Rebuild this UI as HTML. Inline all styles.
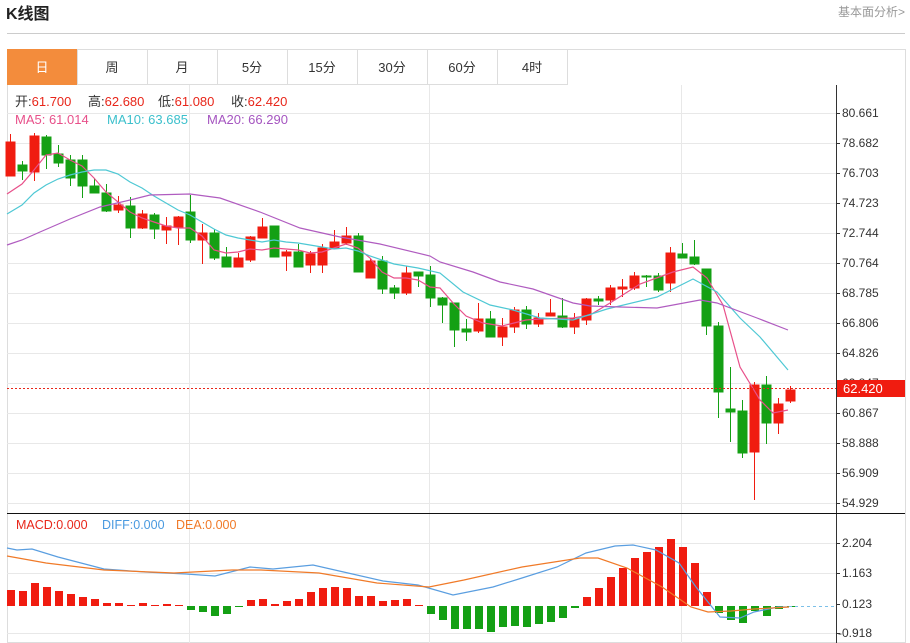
<!DOCTYPE html>
<html><head><meta charset="utf-8"><style>
body{margin:0;background:#fff;width:910px;height:643px;overflow:hidden;font-family:"Liberation Sans","Noto Sans CJK SC",sans-serif;}
svg{position:absolute;left:0;top:0}
</style></head><body>
<svg width="910" height="643" xmlns="http://www.w3.org/2000/svg" font-family="Liberation Sans, Noto Sans CJK SC, sans-serif">
<text x="6" y="19" font-size="16" font-weight="bold" fill="#222">K线图</text>
<text x="838" y="16" font-size="12" fill="#999">基本面分析&gt;</text>
<line x1="7" y1="33.5" x2="905" y2="33.5" stroke="#ccc"/>
<rect x="7.5" y="49.5" width="898" height="593" fill="none" stroke="#ddd"/>
<line x1="7" y1="84.5" x2="567" y2="84.5" stroke="#ddd"/>
<rect x="7" y="49" width="70" height="36" fill="#f38c3c"/>
<g stroke="#ddd"><line x1="77.5" y1="49" x2="77.5" y2="85"/><line x1="147.5" y1="49" x2="147.5" y2="85"/><line x1="217.5" y1="49" x2="217.5" y2="85"/><line x1="287.5" y1="49" x2="287.5" y2="85"/><line x1="357.5" y1="49" x2="357.5" y2="85"/><line x1="427.5" y1="49" x2="427.5" y2="85"/><line x1="497.5" y1="49" x2="497.5" y2="85"/><line x1="567.5" y1="49" x2="567.5" y2="85"/></g>
<g font-size="13" text-anchor="middle" fill="#333"><text x="42" y="72" fill="#fff">日</text><text x="112" y="72">周</text><text x="182" y="72">月</text><text x="252" y="72">5分</text><text x="322" y="72">15分</text><text x="392" y="72">30分</text><text x="462" y="72">60分</text><text x="532" y="72">4时</text></g>
<g stroke="#e8e8e8">
<line x1="7" y1="113.5" x2="836" y2="113.5"/><line x1="7" y1="143.5" x2="836" y2="143.5"/><line x1="7" y1="173.5" x2="836" y2="173.5"/><line x1="7" y1="203.5" x2="836" y2="203.5"/><line x1="7" y1="233.5" x2="836" y2="233.5"/><line x1="7" y1="263.5" x2="836" y2="263.5"/><line x1="7" y1="293.5" x2="836" y2="293.5"/><line x1="7" y1="323.5" x2="836" y2="323.5"/><line x1="7" y1="353.5" x2="836" y2="353.5"/><line x1="7" y1="383.5" x2="836" y2="383.5"/><line x1="7" y1="413.5" x2="836" y2="413.5"/><line x1="7" y1="443.5" x2="836" y2="443.5"/><line x1="7" y1="473.5" x2="836" y2="473.5"/><line x1="7" y1="503.5" x2="836" y2="503.5"/>
<line x1="7" y1="543.5" x2="836" y2="543.5"/><line x1="7" y1="573.5" x2="836" y2="573.5"/><line x1="7" y1="633.5" x2="836" y2="633.5"/>
<line x1="189.5" y1="85" x2="189.5" y2="643"/><line x1="429.5" y1="85" x2="429.5" y2="643"/><line x1="681.5" y1="85" x2="681.5" y2="643"/>
</g>
<line x1="836.5" y1="85" x2="836.5" y2="643" stroke="#333"/>
<line x1="7" y1="513.5" x2="905" y2="513.5" stroke="#111"/>
<g font-size="12" fill="#333">
<text x="842" y="117">80.661</text><text x="842" y="147">78.682</text><text x="842" y="177">76.703</text><text x="842" y="207">74.723</text><text x="842" y="237">72.744</text><text x="842" y="267">70.764</text><text x="842" y="297">68.785</text><text x="842" y="327">66.806</text><text x="842" y="357">64.826</text><text x="842" y="387">62.847</text><text x="842" y="417">60.867</text><text x="842" y="447">58.888</text><text x="842" y="477">56.909</text><text x="842" y="507">54.929</text>
<text x="842" y="547">2.204</text><text x="842" y="577">1.163</text><text x="842" y="608">0.123</text><text x="838" y="637">-0.918</text>
</g>
<g stroke="#333"><line x1="836" y1="113.5" x2="840" y2="113.5"/><line x1="836" y1="143.5" x2="840" y2="143.5"/><line x1="836" y1="173.5" x2="840" y2="173.5"/><line x1="836" y1="203.5" x2="840" y2="203.5"/><line x1="836" y1="233.5" x2="840" y2="233.5"/><line x1="836" y1="263.5" x2="840" y2="263.5"/><line x1="836" y1="293.5" x2="840" y2="293.5"/><line x1="836" y1="323.5" x2="840" y2="323.5"/><line x1="836" y1="353.5" x2="840" y2="353.5"/><line x1="836" y1="413.5" x2="840" y2="413.5"/><line x1="836" y1="443.5" x2="840" y2="443.5"/><line x1="836" y1="473.5" x2="840" y2="473.5"/><line x1="836" y1="503.5" x2="840" y2="503.5"/><line x1="836" y1="543.5" x2="840" y2="543.5"/><line x1="836" y1="573.5" x2="840" y2="573.5"/><line x1="836" y1="604.5" x2="840" y2="604.5"/><line x1="836" y1="633.5" x2="840" y2="633.5"/></g>
<g font-size="13">
<text x="15" y="106" fill="#333">开:<tspan fill="#e8261a">61.700</tspan></text>
<text x="88" y="106" fill="#333">高:<tspan fill="#e8261a">62.680</tspan></text>
<text x="158" y="106" fill="#333">低:<tspan fill="#e8261a">61.080</tspan></text>
<text x="231" y="106" fill="#333">收:<tspan fill="#e8261a">62.420</tspan></text>
<text x="15" y="124" fill="#e8508a">MA5: 61.014</text>
<text x="107" y="124" fill="#3cc0cc">MA10: 63.685</text>
<text x="207" y="124" fill="#a555c0">MA20: 66.290</text>
</g>
<g font-size="12.5">
<text x="16" y="529" fill="#e8261a">MACD:0.000</text>
<text x="102" y="529" fill="#4a9ae0">DIFF:0.000</text>
<text x="176" y="529" fill="#f07a28">DEA:0.000</text>
</g>
<g stroke-width="1">
<g fill="#f01c10" stroke="#f01c10">
<line x1="10.5" y1="134" x2="10.5" y2="176"/><rect x="6" y="142" width="9" height="34"/>
<line x1="34.5" y1="133" x2="34.5" y2="181"/><rect x="30" y="136" width="9" height="36"/>
<line x1="118.5" y1="196" x2="118.5" y2="213"/><rect x="114" y="205" width="9" height="5"/>
<line x1="142.5" y1="210" x2="142.5" y2="229"/><rect x="138" y="214" width="9" height="14"/>
<line x1="166.5" y1="217" x2="166.5" y2="244"/><rect x="162" y="226" width="9" height="4"/>
<line x1="178.5" y1="216" x2="178.5" y2="245"/><rect x="174" y="217" width="9" height="10"/>
<line x1="202.5" y1="224" x2="202.5" y2="264"/><rect x="198" y="233" width="9" height="7"/>
<line x1="238.5" y1="253" x2="238.5" y2="267"/><rect x="234" y="258" width="9" height="9"/>
<line x1="250.5" y1="236" x2="250.5" y2="262"/><rect x="246" y="237" width="9" height="23"/>
<line x1="262.5" y1="218" x2="262.5" y2="238"/><rect x="258" y="227" width="9" height="11"/>
<line x1="286.5" y1="250" x2="286.5" y2="271"/><rect x="282" y="252" width="9" height="4"/>
<line x1="310.5" y1="251" x2="310.5" y2="273"/><rect x="306" y="254" width="9" height="11"/>
<line x1="322.5" y1="244" x2="322.5" y2="273"/><rect x="318" y="248" width="9" height="17"/>
<line x1="334.5" y1="230" x2="334.5" y2="249"/><rect x="330" y="242" width="9" height="6"/>
<line x1="346.5" y1="227" x2="346.5" y2="245"/><rect x="342" y="236" width="9" height="7"/>
<line x1="370.5" y1="258" x2="370.5" y2="278"/><rect x="366" y="261" width="9" height="17"/>
<line x1="406.5" y1="266" x2="406.5" y2="295"/><rect x="402" y="273" width="9" height="20"/>
<line x1="478.5" y1="303" x2="478.5" y2="333"/><rect x="474" y="319" width="9" height="12"/>
<line x1="502.5" y1="318" x2="502.5" y2="346"/><rect x="498" y="327" width="9" height="10"/>
<line x1="514.5" y1="307" x2="514.5" y2="333"/><rect x="510" y="310" width="9" height="17"/>
<line x1="538.5" y1="313" x2="538.5" y2="327"/><rect x="534" y="318" width="9" height="6"/>
<line x1="550.5" y1="299" x2="550.5" y2="316"/><rect x="546" y="313" width="9" height="3"/>
<line x1="574.5" y1="313" x2="574.5" y2="334"/><rect x="570" y="319" width="9" height="8"/>
<line x1="586.5" y1="298" x2="586.5" y2="325"/><rect x="582" y="299" width="9" height="21"/>
<line x1="610.5" y1="285" x2="610.5" y2="305"/><rect x="606" y="288" width="9" height="12"/>
<line x1="622.5" y1="279" x2="622.5" y2="297"/><rect x="618" y="287" width="9" height="2"/>
<line x1="634.5" y1="272" x2="634.5" y2="290"/><rect x="630" y="276" width="9" height="12"/>
<line x1="670.5" y1="247" x2="670.5" y2="292"/><rect x="666" y="253" width="9" height="30"/>
<line x1="754.5" y1="382" x2="754.5" y2="500"/><rect x="750" y="385" width="9" height="67"/>
<line x1="778.5" y1="398" x2="778.5" y2="434"/><rect x="774" y="404" width="9" height="19"/>
<line x1="790.5" y1="386" x2="790.5" y2="403"/><rect x="786" y="390" width="9" height="11"/>
</g>
<g fill="#14a014" stroke="#14a014">
<line x1="22.5" y1="161" x2="22.5" y2="180"/><rect x="18" y="165" width="9" height="6"/>
<line x1="46.5" y1="135" x2="46.5" y2="169"/><rect x="42" y="137" width="9" height="18"/>
<line x1="58.5" y1="145" x2="58.5" y2="167"/><rect x="54" y="154" width="9" height="9"/>
<line x1="70.5" y1="155" x2="70.5" y2="186"/><rect x="66" y="160" width="9" height="18"/>
<line x1="82.5" y1="155" x2="82.5" y2="198"/><rect x="78" y="160" width="9" height="26"/>
<line x1="94.5" y1="178" x2="94.5" y2="193"/><rect x="90" y="186" width="9" height="7"/>
<line x1="106.5" y1="184" x2="106.5" y2="212"/><rect x="102" y="193" width="9" height="18"/>
<line x1="130.5" y1="197" x2="130.5" y2="238"/><rect x="126" y="206" width="9" height="22"/>
<line x1="154.5" y1="213" x2="154.5" y2="239"/><rect x="150" y="215" width="9" height="14"/>
<line x1="190.5" y1="195" x2="190.5" y2="243"/><rect x="186" y="212" width="9" height="28"/>
<line x1="214.5" y1="229" x2="214.5" y2="260"/><rect x="210" y="233" width="9" height="25"/>
<line x1="226.5" y1="247" x2="226.5" y2="267"/><rect x="222" y="257" width="9" height="10"/>
<line x1="274.5" y1="226" x2="274.5" y2="257"/><rect x="270" y="226" width="9" height="31"/>
<line x1="298.5" y1="244" x2="298.5" y2="267"/><rect x="294" y="252" width="9" height="15"/>
<line x1="358.5" y1="233" x2="358.5" y2="272"/><rect x="354" y="236" width="9" height="36"/>
<line x1="382.5" y1="256" x2="382.5" y2="294"/><rect x="378" y="261" width="9" height="28"/>
<line x1="394.5" y1="285" x2="394.5" y2="299"/><rect x="390" y="288" width="9" height="5"/>
<line x1="418.5" y1="272" x2="418.5" y2="287"/><rect x="414" y="272" width="9" height="4"/>
<line x1="430.5" y1="266" x2="430.5" y2="307"/><rect x="426" y="275" width="9" height="23"/>
<line x1="442.5" y1="297" x2="442.5" y2="323"/><rect x="438" y="298" width="9" height="7"/>
<line x1="454.5" y1="303" x2="454.5" y2="347"/><rect x="450" y="303" width="9" height="27"/>
<line x1="466.5" y1="319" x2="466.5" y2="341"/><rect x="462" y="329" width="9" height="3"/>
<line x1="490.5" y1="311" x2="490.5" y2="337"/><rect x="486" y="319" width="9" height="18"/>
<line x1="526.5" y1="306" x2="526.5" y2="329"/><rect x="522" y="310" width="9" height="14"/>
<line x1="562.5" y1="298" x2="562.5" y2="328"/><rect x="558" y="316" width="9" height="11"/>
<line x1="598.5" y1="296" x2="598.5" y2="305"/><rect x="594" y="299" width="9" height="2"/>
<line x1="646.5" y1="275" x2="646.5" y2="287"/><rect x="642" y="276" width="9" height="1"/>
<line x1="658.5" y1="273" x2="658.5" y2="292"/><rect x="654" y="276" width="9" height="14"/>
<line x1="682.5" y1="243" x2="682.5" y2="258"/><rect x="678" y="254" width="9" height="4"/>
<line x1="694.5" y1="240" x2="694.5" y2="265"/><rect x="690" y="257" width="9" height="7"/>
<line x1="706.5" y1="269" x2="706.5" y2="335"/><rect x="702" y="269" width="9" height="57"/>
<line x1="718.5" y1="322" x2="718.5" y2="418"/><rect x="714" y="326" width="9" height="66"/>
<line x1="730.5" y1="367" x2="730.5" y2="442"/><rect x="726" y="409" width="9" height="3"/>
<line x1="742.5" y1="400" x2="742.5" y2="458"/><rect x="738" y="411" width="9" height="42"/>
<line x1="766.5" y1="376" x2="766.5" y2="444"/><rect x="762" y="385" width="9" height="38"/>
</g>
</g>
<polyline fill="none" stroke="#e8508a" stroke-width="1.2" points="7,194 22,184 34,170 46,155 58,153 70,160 82,166 94,178 106,192 118,202 130,212 142,218 154,222 166,226 178,228 190,228 202,236 214,250 226,253 238,252 250,249 262,250 274,248 286,249 298,250 310,253 322,252 334,248 346,244 358,248 370,258 382,272 394,278 406,278 418,280 430,287 440,288 454,304 466,316 483,323 502,326 514,323 526,320 540,319 573,318 590,315 610,303 640,284 673,272 693,267 707,278 723,305 740,367 760,400 773,413 788,410"/>
<polyline fill="none" stroke="#4ec8d4" stroke-width="1.2" points="7,214 22,205 34,193 46,185 58,179 70,175 82,172 94,170 106,170 118,174 130,182 142,188 154,196 166,203 178,210 190,215 202,222 214,229 226,235 238,238 250,240 262,242 274,240 286,242 298,243 310,245 322,247 334,249 346,248 358,251 370,256 382,260 394,264 406,266 418,268 440,273 463,292 490,305 513,310 540,318 573,320 607,309 657,297 693,279 717,292 740,318 760,337 788,370"/>
<polyline fill="none" stroke="#b05cc0" stroke-width="1.2" points="7,245 22,240 40,232 70,219 100,207 130,200 150,195 190,194 220,198 260,212 300,228 340,237 380,244 430,256 440,262 473,272 500,282 533,289 573,303 590,306 620,307 657,308 700,300 717,303 757,318 788,330"/>
<line x1="7" y1="388.5" x2="836" y2="388.5" stroke="#e8261a" stroke-dasharray="2,2"/>
<rect x="837" y="380" width="68" height="17" fill="#f01c10"/>
<text x="843" y="393" font-size="13" fill="#fff">62.420</text>
<g fill="#f01c10">
<rect x="7" y="590" width="8" height="16"/><rect x="19" y="591" width="8" height="15"/><rect x="31" y="583" width="8" height="23"/><rect x="43" y="587" width="8" height="19"/><rect x="55" y="591" width="8" height="15"/><rect x="67" y="594" width="8" height="12"/><rect x="79" y="597" width="8" height="9"/><rect x="91" y="599" width="8" height="7"/><rect x="103" y="603" width="8" height="3"/><rect x="115" y="603" width="8" height="3"/><rect x="127" y="605" width="8" height="1"/><rect x="139" y="603" width="8" height="3"/><rect x="151" y="605" width="8" height="1"/><rect x="163" y="604" width="8" height="2"/><rect x="175" y="605" width="8" height="1"/>
<rect x="247" y="600" width="8" height="6"/><rect x="259" y="599" width="8" height="7"/><rect x="271" y="604" width="8" height="2"/><rect x="283" y="601" width="8" height="5"/><rect x="295" y="599" width="8" height="7"/><rect x="307" y="592" width="8" height="14"/><rect x="319" y="588" width="8" height="18"/><rect x="331" y="587" width="8" height="19"/><rect x="343" y="588" width="8" height="18"/><rect x="355" y="596" width="8" height="10"/><rect x="367" y="596" width="8" height="10"/><rect x="379" y="601" width="8" height="5"/><rect x="391" y="600" width="8" height="6"/><rect x="403" y="599" width="8" height="7"/><rect x="415" y="605" width="8" height="1"/>
<rect x="583" y="597" width="8" height="9"/><rect x="595" y="588" width="8" height="18"/><rect x="607" y="577" width="8" height="29"/><rect x="619" y="568" width="8" height="38"/><rect x="631" y="558" width="8" height="48"/><rect x="643" y="552" width="8" height="54"/><rect x="655" y="547" width="8" height="59"/><rect x="667" y="539" width="8" height="67"/><rect x="679" y="547" width="8" height="59"/><rect x="691" y="563" width="8" height="43"/><rect x="703" y="592" width="8" height="14"/>
</g>
<g fill="#14a014">
<rect x="187" y="606" width="8" height="4"/><rect x="199" y="606" width="8" height="6"/><rect x="211" y="606" width="8" height="10"/><rect x="223" y="606" width="8" height="8"/><rect x="235" y="606" width="8" height="1"/>
<rect x="427" y="606" width="8" height="8"/><rect x="439" y="606" width="8" height="14"/><rect x="451" y="606" width="8" height="23"/><rect x="463" y="606" width="8" height="23"/><rect x="475" y="606" width="8" height="23"/><rect x="487" y="606" width="8" height="26"/><rect x="499" y="606" width="8" height="21"/><rect x="511" y="606" width="8" height="20"/><rect x="523" y="606" width="8" height="21"/><rect x="535" y="606" width="8" height="18"/><rect x="547" y="606" width="8" height="16"/><rect x="559" y="606" width="8" height="12"/><rect x="571" y="606" width="8" height="2"/>
<rect x="715" y="606" width="8" height="7"/><rect x="727" y="606" width="8" height="14"/><rect x="739" y="606" width="8" height="17"/><rect x="751" y="606" width="8" height="5"/><rect x="763" y="606" width="8" height="10"/><rect x="775" y="606" width="8" height="3"/><rect x="787" y="606" width="8" height="1"/>
</g>
<line x1="789" y1="606.5" x2="836" y2="606.5" stroke="#7cc0e8" stroke-dasharray="3,3"/>
<polyline fill="none" stroke="#5a9ee0" stroke-width="1.2" points="7,548 17,550 32,549 58,557 104,569 145,572 186,574 215,576 250,567 273,569 313,565 348,573 383,581 418,585 453,595 493,587 522,578 557,567 586,553 615,546 633,545 656,550 679,563 696,587 720,617 740,618 754,612 778,607 789,607"/>
<polyline fill="none" stroke="#f07a28" stroke-width="1.2" points="7,556 46,563 104,570 174,573 232,570 261,570 319,573 377,583 429,587 464,580 522,567 580,558 598,558 627,568 662,587 691,607 708,612 731,611 754,609 789,607"/>
</svg>
</body></html>
